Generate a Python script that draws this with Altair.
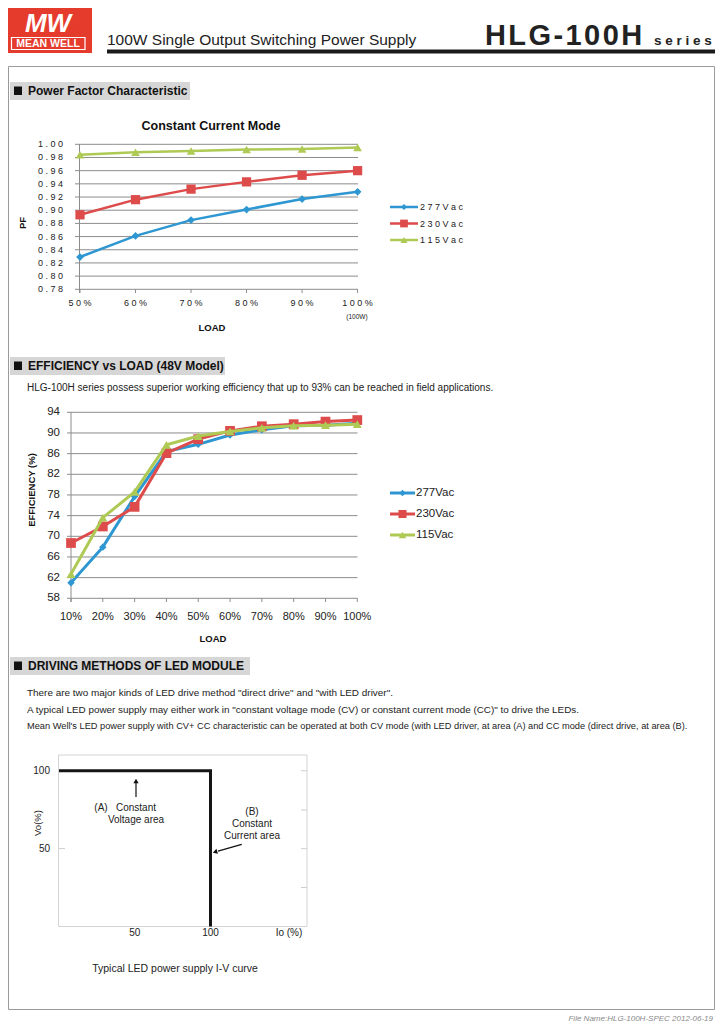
import altair as alt
import pandas as pd

# ---------------- data ----------------
series = ["277Vac", "230Vac", "115Vac"]
series_spaced = ["2 7 7 V a c", "2 3 0 V a c", "1 1 5 V a c"]

pf_load = ["50%", "60%", "70%", "80%", "90%", "100%"]
pf_277 = [0.829, 0.861, 0.885, 0.901, 0.917, 0.928]
pf_230 = [0.893, 0.916, 0.932, 0.943, 0.953, 0.960]
pf_115 = [0.984, 0.988, 0.990, 0.992, 0.993, 0.995]
pf_y_ticks = [0.78, 0.80, 0.82, 0.84, 0.86, 0.88, 0.90, 0.92, 0.94, 0.96, 0.98, 1.00]
pf_y_labels = ["0.78", "0.80", "0.82", "0.84", "0.86", "0.88", "0.90", "0.92", "0.94", "0.96", "0.98", "1.00"]

eff_load = ["10%", "20%", "30%", "40%", "50%", "60%", "70%", "80%", "90%", "100%"]
eff_277 = [61.0, 67.9, 77.7, 86.4, 87.8, 89.6, 90.6, 91.4, 91.5, 91.9]
eff_230 = [68.7, 71.9, 75.7, 86.1, 88.8, 90.4, 91.3, 91.7, 92.2, 92.5]
eff_115 = [62.7, 73.6, 78.6, 87.7, 89.4, 90.3, 91.0, 91.4, 91.5, 91.7]
eff_y_ticks = [58, 62, 66, 70, 74, 78, 82, 86, 90, 94]

iv_io = [0, 100, 100]
iv_vo = [100, 100, 0]
iv_x_ticks = [50, 100]
iv_y_ticks = [50, 100]

# ---------------- styles ----------------
O = 8
SANS = "Liberation Sans, Arial, sans-serif"
BLUE, RED, GREEN = "#2E97D2", "#DD4B4B", "#AECA54"
COLORS = [BLUE, RED, GREEN]
SHAPES = ["diamond", "square", "triangle-up"]
ONE = pd.DataFrame({"k": [0]})


def T(s, x, y, size=10, weight="normal", color="#000", align="left", font=SANS,
      angle=0, italic=False, baseline="middle"):
    kw = dict(text=s, fontSize=size, fontWeight=weight, color=color, align=align,
              baseline=baseline, font=font)
    if angle:
        kw["angle"] = angle
    if italic:
        kw["fontStyle"] = "italic"
    return alt.Chart(ONE).mark_text(**kw).encode(x=alt.value(x - O), y=alt.value(y - O))


def R(x1, y1, x2, y2, color="#888", w=1):
    return alt.Chart(ONE).mark_rule(color=color, strokeWidth=w).encode(
        x=alt.value(x1 - O), x2=alt.value(x2 - O), y=alt.value(y1 - O), y2=alt.value(y2 - O))


def B(x1, y1, x2, y2, fill="#ccc", stroke=None, sw=1):
    kw = dict(fill=fill)
    if stroke:
        kw.update(stroke=stroke, strokeWidth=sw)
    return alt.Chart(ONE).mark_rect(**kw).encode(
        x=alt.value(x1 - O), x2=alt.value(x2 - O), y=alt.value(y1 - O), y2=alt.value(y2 - O))


def P(x, y, shape, color, size, angle=0):
    kw = dict(shape=shape, filled=True, size=size, color=color, opacity=1)
    if angle:
        kw["angle"] = angle
    return alt.Chart(ONE).mark_point(**kw).encode(x=alt.value(x - O), y=alt.value(y - O))


layers = []

# ---------------- page furniture ----------------
layers += [
    B(8.5, 66.5, 714.5, 1009.5, fill="white", stroke="#9a9a9a", sw=1),
    B(8, 8, 92, 53, fill="#E53B2C"),
    T("MW", 48, 31.5, size=26, weight="bold", color="white", align="center", italic=True,
      baseline="alphabetic"),
    B(11.5, 37.5, 85, 49.5, fill="#E53B2C", stroke="white", sw=1.2),
    T("MEAN WELL", 48, 44, size=10.5, weight="bold", color="white", align="center"),
    T("100W Single Output Switching Power Supply", 107, 45, size=15.5, color="#222",
      baseline="alphabetic"),
    T("H\u200aL\u200aG\u200a-\u200a1\u200a0\u200a0\u200aH", 485, 45, size=29, weight="bold",
      color="#222", baseline="alphabetic"),
    T("s e r i e s", 654, 45, size=13.5, weight="bold", color="#222", baseline="alphabetic"),
    B(107, 49.5, 715, 53.5, fill="#1a1a1a"),
    T("File Name:HLG-100H-SPEC   2012-06-19", 713, 1019, size=8, color="#8a8a8a",
      align="right", italic=True),
]

for (txt, x2, yc) in [("Power Factor Characteristic", 190, 91),
                      ("EFFICIENCY vs LOAD (48V Model)", 225, 366),
                      ("DRIVING METHODS OF LED MODULE", 250, 666)]:
    layers += [
        B(10, yc - 9, x2, yc + 9, fill="#d6d6d6"),
        B(14, yc - 4.5, 22, yc + 4, fill="#111"),
        T(txt, 28, yc, size=12, weight="bold", color="#111"),
    ]

layers += [
    T("HLG-100H series possess superior working efficiency that up to 93% can be reached in field applications.",
      27, 388, size=10, color="#222"),
    T('There are two major kinds of LED drive method "direct drive" and "with LED driver".',
      27, 693, size=9.95, color="#222"),
    T('A typical LED power supply may either work in "constant voltage mode (CV) or constant current mode (CC)" to drive the LEDs.',
      27, 710, size=9.9, color="#222"),
    T("Mean Well's LED power supply with CV+ CC characteristic can be operated at both CV mode (with LED driver, at area (A) and CC mode (direct drive, at area (B).",
      27, 726, size=9.25, color="#222"),
]

# ---------------- PF chart ----------------
pf_xs = alt.Scale(type="point", domain=pf_load, range=[80 - O, 357.6 - O], padding=0)
pf_ys = alt.Scale(domain=[0.78, 1.0], range=[289.3 - O, 144.3 - O], nice=False, zero=False)
pf_tick_df = pd.DataFrame({"v": pf_y_ticks, "lab": [" ".join(s) for s in pf_y_labels]})
pf_cat_df = pd.DataFrame({"cat": pf_load, "lab": [" ".join(s) for s in pf_load]})

layers += [
    T("Constant Current Mode", 211, 126, size=12.5, weight="bold", align="center", color="#111"),
    alt.Chart(pf_tick_df).mark_rule(color="#8c8c8c", strokeWidth=1).encode(
        y=alt.Y("v:Q", scale=pf_ys, axis=None), x=alt.value(79 - O), x2=alt.value(358 - O)),
    alt.Chart(pf_tick_df).mark_rule(color="#8c8c8c", strokeWidth=1).encode(
        y=alt.Y("v:Q", scale=pf_ys, axis=None), x=alt.value(75 - O), x2=alt.value(79 - O)),
    R(79.5, 144, 79.5, 293, color="#8c8c8c"),
    alt.Chart(pf_cat_df).mark_rule(color="#8c8c8c", strokeWidth=1).encode(
        x=alt.X("cat:N", scale=pf_xs, axis=None), y=alt.value(289.3 - O), y2=alt.value(293 - O)),
    alt.Chart(pf_tick_df).mark_text(align="right", baseline="middle", fontSize=9, font=SANS,
                                    color="#222").encode(
        y=alt.Y("v:Q", scale=pf_ys, axis=None), x=alt.value(63 - O), text="lab:N"),
    alt.Chart(pf_cat_df).mark_text(align="center", baseline="middle", fontSize=9, font=SANS,
                                   color="#222").encode(
        x=alt.X("cat:N", scale=pf_xs, axis=None), y=alt.value(303 - O), text="lab:N"),
    T("(100W)", 357, 317, size=6.5, align="center", color="#222"),
    T("LOAD", 212, 328, size=9.5, weight="bold", align="center", color="#111"),
    T("PF", 23, 223, size=9.5, weight="bold", align="center", angle=270, color="#111"),
]

for vals, c, shp, sz in zip([pf_277, pf_230, pf_115], COLORS, SHAPES, [60, 85, 75]):
    df = pd.DataFrame({"cat": pf_load, "v": vals, "i": list(range(len(vals)))})
    enc = dict(x=alt.X("cat:N", scale=pf_xs, axis=None), y=alt.Y("v:Q", scale=pf_ys, axis=None))
    layers += [
        alt.Chart(df).mark_line(color=c, strokeWidth=2.5).encode(order="i:Q", **enc),
        alt.Chart(df).mark_point(shape=shp, filled=True, size=sz, color=c, opacity=1).encode(**enc),
    ]

for lab, c, shp, sz, yy in zip(series_spaced, COLORS, SHAPES, [35, 60, 50], [207, 223.5, 240]):
    layers += [R(390, yy, 418, yy, color=c, w=2.5), P(404, yy, shp, c, sz),
               T(lab, 420, yy, size=9, color="#222")]

# ---------------- Efficiency chart ----------------
ef_xs = alt.Scale(type="point", domain=eff_load, range=[71 - O, 357.3 - O], padding=0)
ef_ys = alt.Scale(domain=[58, 94], range=[598.3 - O, 412.3 - O], nice=False, zero=False)
ef_tick_df = pd.DataFrame({"v": eff_y_ticks, "lab": [str(v) for v in eff_y_ticks]})
ef_cat_df = pd.DataFrame({"cat": eff_load})

layers += [
    alt.Chart(ef_tick_df).mark_rule(color="#8c8c8c", strokeWidth=1).encode(
        y=alt.Y("v:Q", scale=ef_ys, axis=None), x=alt.value(71 - O), x2=alt.value(357.5 - O)),
    alt.Chart(ef_tick_df).mark_rule(color="#8c8c8c", strokeWidth=1).encode(
        y=alt.Y("v:Q", scale=ef_ys, axis=None), x=alt.value(67 - O), x2=alt.value(71 - O)),
    R(71, 412, 71, 602, color="#8c8c8c"),
    alt.Chart(ef_cat_df).mark_rule(color="#8c8c8c", strokeWidth=1).encode(
        x=alt.X("cat:N", scale=ef_xs, axis=None), y=alt.value(598.3 - O), y2=alt.value(602 - O)),
    alt.Chart(ef_tick_df).mark_text(align="right", baseline="middle", fontSize=11.5, font=SANS,
                                    color="#222").encode(
        y=alt.Y("v:Q", scale=ef_ys, axis=None), x=alt.value(60 - O), text="lab:N"),
    alt.Chart(ef_cat_df).mark_text(align="center", baseline="middle", fontSize=11, font=SANS,
                                   color="#222").encode(
        x=alt.X("cat:N", scale=ef_xs, axis=None), y=alt.value(617 - O), text="cat:N"),
    T("LOAD", 213, 639, size=9.5, weight="bold", align="center", color="#111"),
    T("EFFICIENCY (%)", 32, 490, size=9.5, weight="bold", align="center", angle=270, color="#111"),
]

for vals, c, shp, sz in zip([eff_277, eff_230, eff_115], COLORS, SHAPES, [55, 95, 80]):
    df = pd.DataFrame({"cat": eff_load, "v": vals, "i": list(range(len(vals)))})
    enc = dict(x=alt.X("cat:N", scale=ef_xs, axis=None), y=alt.Y("v:Q", scale=ef_ys, axis=None))
    layers += [
        alt.Chart(df).mark_line(color=c, strokeWidth=3).encode(order="i:Q", **enc),
        alt.Chart(df).mark_point(shape=shp, filled=True, size=sz, color=c, opacity=1).encode(**enc),
    ]

for lab, c, shp, sz, yy in zip(series, COLORS, SHAPES, [40, 65, 60], [493, 514, 535]):
    layers += [R(390, yy, 415, yy, color=c, w=3), P(402.5, yy, shp, c, sz),
               T(lab, 416, yy, size=11.5, color="#222")]

# ---------------- I-V curve ----------------
iv_xs = alt.Scale(domain=[0, 100], range=[59 - O, 210.5 - O], nice=False, zero=False)
iv_ys = alt.Scale(domain=[0, 100], range=[926.5 - O, 770.7 - O], nice=False, zero=False)
iv_df = pd.DataFrame({"io": iv_io, "vo": iv_vo, "i": [0, 1, 2]})
ivx_df = pd.DataFrame({"v": iv_x_ticks, "lab": [str(v) for v in iv_x_ticks]})
ivy_df = pd.DataFrame({"v": iv_y_ticks, "lab": [str(v) for v in iv_y_ticks]})

layers += [
    B(58.5, 755, 307, 926.5, fill="white", stroke="#d4d4d4", sw=1),
    R(301, 770.7, 307, 770.7, color="#cfcfcf"),
    R(301, 810, 307, 810, color="#cfcfcf"),
    R(301, 848.7, 307, 848.7, color="#cfcfcf"),
    R(301, 887.5, 307, 887.5, color="#cfcfcf"),
    alt.Chart(ivy_df).mark_rule(color="#cfcfcf", strokeWidth=1).encode(
        y=alt.Y("v:Q", scale=iv_ys, axis=None), x=alt.value(59 - O), x2=alt.value(65 - O)),
    alt.Chart(iv_df).mark_line(color="#151515", strokeWidth=3, strokeJoin="miter").encode(
        x=alt.X("io:Q", scale=iv_xs, axis=None), y=alt.Y("vo:Q", scale=iv_ys, axis=None),
        order="i:Q"),
    alt.Chart(ivy_df).mark_text(align="right", baseline="middle", fontSize=10, font=SANS,
                                color="#222").encode(
        y=alt.Y("v:Q", scale=iv_ys, axis=None), x=alt.value(50 - O), text="lab:N"),
    alt.Chart(ivx_df).mark_text(align="center", baseline="middle", fontSize=10, font=SANS,
                                color="#222").encode(
        x=alt.X("v:Q", scale=iv_xs, axis=None), y=alt.value(933 - O), text="lab:N"),
    T("Io (%)", 289, 933, size=10, align="center", color="#222"),
    T("Vo(%)", 38, 823, size=9.5, align="center", angle=270, color="#222"),
    T("(A)", 101, 808, size=10, align="center", color="#222"),
    T("Constant", 136, 808, size=10, align="center", color="#222"),
    T("Voltage area", 136, 820, size=10, align="center", color="#222"),
    T("(B)", 252, 812, size=10, align="center", color="#222"),
    T("Constant", 252, 824, size=10, align="center", color="#222"),
    T("Current area", 252, 835.5, size=10, align="center", color="#222"),
    R(136, 797, 136, 783, color="#111", w=1.2),
    P(136, 781, "triangle-up", "#111", 28),
    R(241.7, 844.3, 218, 851.2, color="#111", w=1.2),
    P(215, 852, "triangle-up", "#111", 28, angle=253),
    T("Typical LED power supply I-V curve", 175, 969, size=10.5, align="center", color="#222"),
]

chart = alt.layer(*layers).properties(
    width=707, height=1016, padding=0, autosize=alt.AutoSizeParams(type="none")
).resolve_scale(x="independent", y="independent").configure_view(stroke=None)

chart.save("out.html", embed_options={"renderer": "svg", "actions": False})
